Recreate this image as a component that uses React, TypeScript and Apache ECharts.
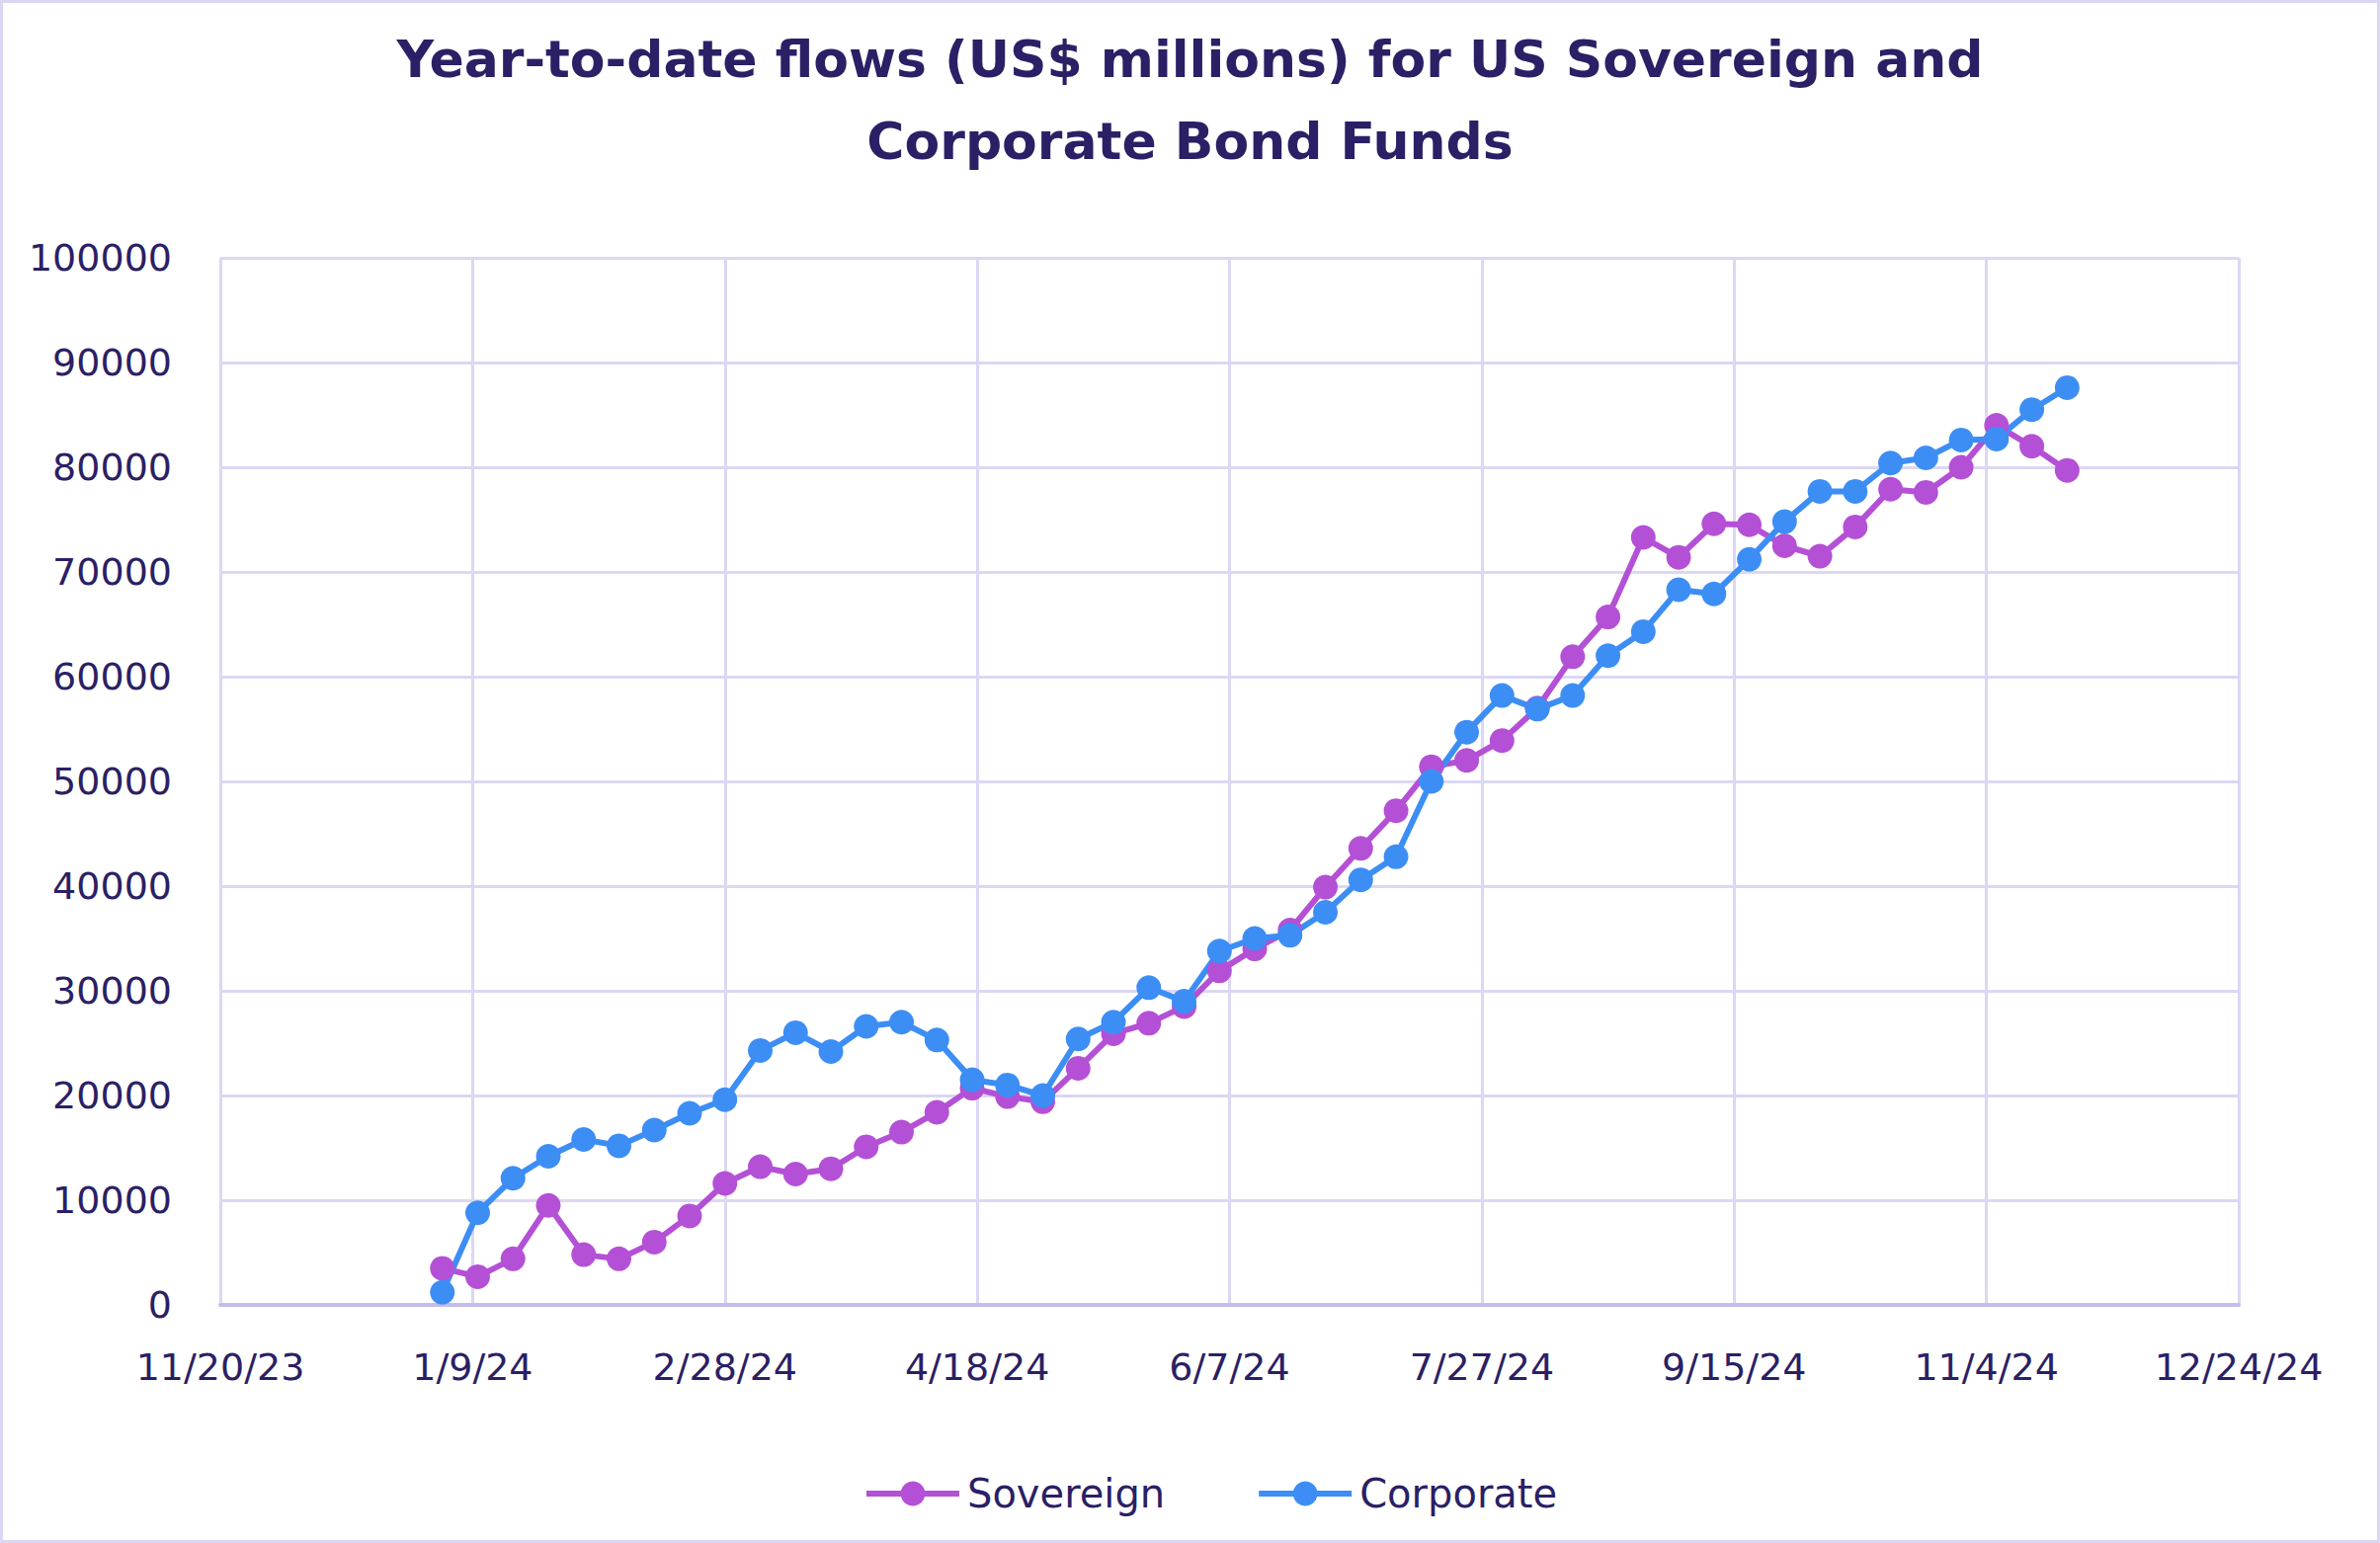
import React, { useEffect, useRef } from "react";
import * as echarts from "echarts";

const axisStart = "2023-11-20";
const tickStepDays = 50;
const tickLabels = ["11/20/23", "1/9/24", "2/28/24", "4/18/24", "6/7/24", "7/27/24", "9/15/24", "11/4/24", "12/24/24"];
const yTicks = { min: 0, max: 100000, interval: 10000 };

const weekDates = [
  "2024-01-03", "2024-01-10", "2024-01-17", "2024-01-24", "2024-01-31",
  "2024-02-07", "2024-02-14", "2024-02-21", "2024-02-28",
  "2024-03-06", "2024-03-13", "2024-03-20", "2024-03-27",
  "2024-04-03", "2024-04-10", "2024-04-17", "2024-04-24",
  "2024-05-01", "2024-05-08", "2024-05-15", "2024-05-22", "2024-05-29",
  "2024-06-05", "2024-06-12", "2024-06-19", "2024-06-26",
  "2024-07-03", "2024-07-10", "2024-07-17", "2024-07-24", "2024-07-31",
  "2024-08-07", "2024-08-14", "2024-08-21", "2024-08-28",
  "2024-09-04", "2024-09-11", "2024-09-18", "2024-09-25",
  "2024-10-02", "2024-10-09", "2024-10-16", "2024-10-23", "2024-10-30",
  "2024-11-06", "2024-11-13", "2024-11-20",
];

const sovereign = [
  3500, 2700, 4400, 9500, 4800, 4400, 6000, 8500, 11600, 13200,
  12500, 13000, 15100, 16500, 18400, 20700, 19900, 19400, 22600, 25900,
  26900, 28500, 31900, 34000, 35800, 39900, 43600, 47200, 51400, 52000,
  53900, 57000, 61900, 65700, 73300, 71400, 74600, 74500, 72500, 71500,
  74300, 77900, 77600, 80000, 84000, 82000, 79700,
];

const corporate = [
  1200, 8800, 12100, 14200, 15800, 15200, 16700, 18300, 19600, 24300,
  26000, 24200, 26600, 27000, 25300, 21500, 21000, 20000, 25400, 27000,
  30300, 29000, 33800, 35000, 35300, 37500, 40600, 42800, 50000, 54700,
  58200, 56900, 58200, 62000, 64300, 68300, 67900, 71200, 74800, 77700,
  77700, 80400, 80900, 82600, 82700, 85500, 87600,
];

const DAY = 86400000;
const dayOffset = (d: string) =>
  Math.round((Date.parse(d + "T00:00:00Z") - Date.parse(axisStart + "T00:00:00Z")) / DAY);

const NAVY = "#2b1f66";
const PURPLE = "#b450d6";
const BLUE = "#3c8ef5";
const GRID = "#dcd7f4";
const FONT = "DejaVu Sans";

export default function App() {
  const ref = useRef<HTMLDivElement>(null);

  useEffect(() => {
    document.body.style.margin = "0";
    if (!ref.current) return;
    const chart = echarts.init(ref.current, null, { renderer: "svg" });
    const xs = weekDates.map(dayOffset);
    const option: any = {
      animation: false,
      backgroundColor: "#ffffff",
      title: {
        text: "Year-to-date flows (US$ millions) for US Sovereign and\nCorporate Bond Funds",
        left: "center",
        top: 13,
        textStyle: {
          fontFamily: FONT,
          fontWeight: "bold",
          fontSize: 52,
          lineHeight: 83,
          color: NAVY,
        },
      },
      grid: { left: 223, right: 143, top: 261, bottom: 241, containLabel: false },
      xAxis: {
        type: "value",
        min: 0,
        max: tickStepDays * (tickLabels.length - 1),
        interval: tickStepDays,
        axisLine: { show: true, lineStyle: { color: "#c4bcec", width: 4 } },
        axisTick: { show: false },
        splitLine: { show: true, lineStyle: { color: GRID, width: 3 } },
        axisLabel: {
          formatter: (v: number) => tickLabels[Math.round(v / tickStepDays)] ?? "",
          fontFamily: FONT,
          fontSize: 38,
          color: NAVY,
          margin: 44,
          showMinLabel: true,
          showMaxLabel: true,
        },
      },
      yAxis: {
        type: "value",
        min: yTicks.min,
        max: yTicks.max,
        interval: yTicks.interval,
        axisLine: { show: false },
        axisTick: { show: false },
        splitLine: { show: true, lineStyle: { color: GRID, width: 3 } },
        axisLabel: {
          formatter: (v: number) => String(v),
          fontFamily: FONT,
          fontSize: 38,
          color: NAVY,
          margin: 49,
        },
      },
      legend: {
        top: 1487,
        left: 869,
        itemWidth: 94,
        itemHeight: 31,
        itemGap: 92,
        lineStyle: { width: 6 },
        textStyle: { fontFamily: FONT, fontSize: 40, color: NAVY, padding: [0, 0, 0, 3] },
        data: ["Sovereign", "Corporate"],
      },
      series: [
        {
          name: "Sovereign",
          type: "line",
          data: xs.map((x, i) => [x, sovereign[i]]),
          symbol: "circle",
          symbolSize: 25,
          color: PURPLE,
          lineStyle: { color: PURPLE, width: 6 },
          itemStyle: { color: PURPLE },
        },
        {
          name: "Corporate",
          type: "line",
          data: xs.map((x, i) => [x, corporate[i]]),
          symbol: "circle",
          symbolSize: 25,
          color: BLUE,
          lineStyle: { color: BLUE, width: 6 },
          itemStyle: { color: BLUE },
        },
      ],
    };
    chart.setOption(option);
    return () => chart.dispose();
  }, []);

  return (
    <div style={{ position: "relative", width: 2409, height: 1562 }}>
      <div ref={ref} style={{ position: "absolute", left: 0, top: 0, width: 2409, height: 1562 }} />
      <div
        style={{
          position: "absolute",
          left: 0,
          top: 0,
          width: 2409,
          height: 1562,
          boxSizing: "border-box",
          border: "3px solid #dcd6f5",
          pointerEvents: "none",
        }}
      />
    </div>
  );
}
